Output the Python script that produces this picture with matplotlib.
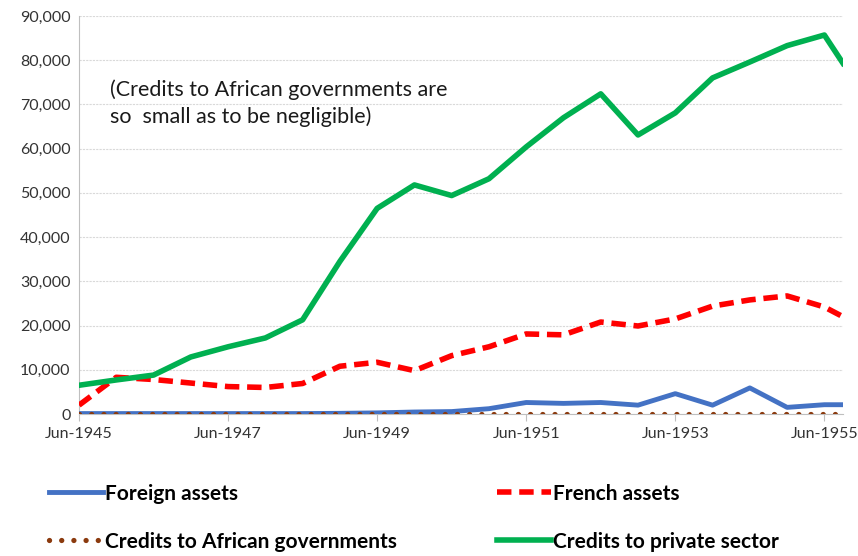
import matplotlib.pyplot as plt
import numpy as np

plt.rcParams['font.family'] = ['Lato', 'DejaVu Sans']

# semiannual observations, last one is Sep-1955
dates = ["Jun-1945", "Dec-1945", "Jun-1946", "Dec-1946", "Jun-1947", "Dec-1947",
         "Jun-1948", "Dec-1948", "Jun-1949", "Dec-1949", "Jun-1950", "Dec-1950",
         "Jun-1951", "Dec-1951", "Jun-1952", "Dec-1952", "Jun-1953", "Dec-1953",
         "Jun-1954", "Dec-1954", "Jun-1955", "Sep-1955"]
foreign = [100, 100, 100, 100, 100, 100, 100, 150, 250, 450, 550, 1200,
           2600, 2400, 2600, 2000, 4600, 2000, 5900, 1500, 2100, 2100]
french = [2000, 8300, 7800, 7000, 6200, 6000, 6900, 10800, 11700, 9800, 13200, 15200,
          18100, 17900, 20800, 19900, 21500, 24400, 25800, 26700, 24200, 22000]
african_gov = [50] * 22
private = [6500, 7700, 8800, 12900, 15200, 17200, 21300, 34500, 46500, 51800, 49400, 53200,
           60400, 67000, 72400, 63100, 68100, 76000, 79600, 83300, 85700, 79300]
tick_labels = ["Jun-1945", "Jun-1947", "Jun-1949", "Jun-1951", "Jun-1953", "Jun-1955"]

month_idx = {"Jun": 6, "Sep": 9, "Dec": 12}
def to_months(s):
    m, y = s.split("-")
    return (int(y) - 1945) * 12 + month_idx[m] - 6

x = np.array([to_months(d) for d in dates])

fig = plt.figure(figsize=(8.58, 5.56), dpi=100)
ax = fig.add_axes([79/858, 1 - 414/556, (843-79)/858, (414-16)/556])

l1, = ax.plot(x, foreign, color='#4472C4', lw=3.5, solid_joinstyle='round', label='Foreign assets', zorder=3)
l2, = ax.plot(x, french, color='#FF0000', lw=4, linestyle=(0, (2.6, 1.4)), label='French assets', zorder=3)
l3, = ax.plot(x, african_gov, color='#8B3A0E', lw=3.8, linestyle=(0, (0.01, 2.3)),
              dash_capstyle='round', label='Credits to African governments', zorder=4)
l4, = ax.plot(x, private, color='#00B050', lw=4, solid_joinstyle='round', label='Credits to private sector', zorder=3)

ax.set_xlim(0, 123)
ax.set_ylim(0, 90000)
ax.set_xticks([to_months(t) for t in tick_labels])
ax.set_xticklabels(tick_labels)
ax.set_yticks(np.arange(0, 90001, 10000))
ax.set_yticklabels([f"{v:,}" for v in range(0, 90001, 10000)])
ax.tick_params(axis='y', length=0, labelsize=11.5, colors='#333333', pad=6)
ax.tick_params(axis='x', length=5, color='#BFBFBF', labelsize=11.5, colors='#333333', pad=4)
ax.grid(axis='y', color='#D9D9D9', lw=0.8, linestyle=(0, (2, 1)))
ax.set_axisbelow(True)
for s in ['top', 'right']:
    ax.spines[s].set_visible(False)
ax.spines['left'].set_color('#BFBFBF')
ax.spines['bottom'].set_color('#BFBFBF')

ax.text(0.041, 0.84, "(Credits to African governments are\nso  small as to be negligible)",
        transform=ax.transAxes, fontsize=15.5, color='#1a1a1a', va='top', linespacing=1.35)

# row-major order like the original: fill column by column
fig.legend([l1, l3, l2, l4], [l.get_label() for l in [l1, l3, l2, l4]],
           loc='lower left', bbox_to_anchor=(30/858, -0.026), ncol=2, frameon=False,
           prop={'weight': 'bold', 'size': 15}, handlelength=2.6, handletextpad=0.1,
           columnspacing=4.8, labelspacing=1.35)

fig.savefig('out.png', dpi=100)
